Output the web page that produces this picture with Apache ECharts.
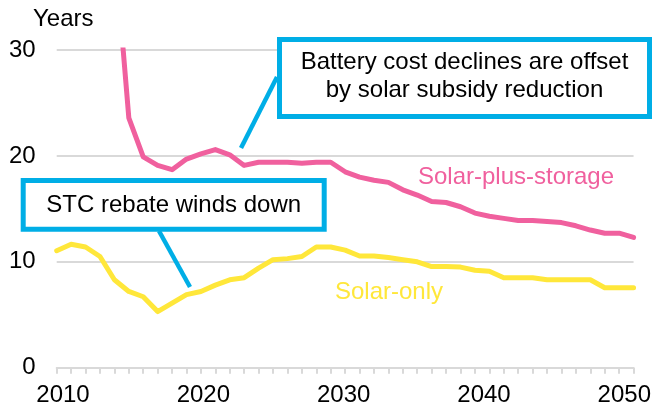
<!DOCTYPE html>
<html>
<head>
<meta charset="utf-8">
<script src="https://cdn.jsdelivr.net/npm/echarts@6/dist/echarts.min.js"></script>
<style>html,body{margin:0;padding:0;background:#fff}#c{width:654px;height:409px}</style>
</head>
<body>
<div id="c"></div>
<script>
const years = [2010,2011,2012,2013,2014,2015,2016,2017,2018,2019,2020,2021,2022,2023,2024,2025,2026,2027,2028,2029,2030,2031,2032,2033,2034,2035,2036,2037,2038,2039,2040,2041,2042,2043,2044,2045,2046,2047,2048,2049,2050];
const solarPlusStorage = [null,null,null,null,40,23.6,19.9,19.1,18.7,19.7,20.2,20.6,20.1,19.1,19.4,19.4,19.4,19.3,19.4,19.4,18.5,18.0,17.7,17.5,16.8,16.3,15.7,15.6,15.2,14.6,14.3,14.1,13.9,13.9,13.8,13.7,13.4,13.0,12.7,12.7,12.3];
const solarOnly = [11.05,11.65,11.4,10.5,8.3,7.2,6.7,5.3,6.1,6.9,7.2,7.8,8.3,8.5,9.4,10.2,10.3,10.5,11.4,11.4,11.1,10.55,10.55,10.4,10.2,10.0,9.55,9.55,9.5,9.2,9.1,8.5,8.5,8.5,8.3,8.3,8.3,8.3,7.55,7.55,7.55];
const xTickLabels = [2010,2020,2030,2040,2050];
const yTickLabels = [0,10,20,30];
const seriesNames = ['Solar-plus-storage','Solar-only'];
const yTitle = 'Years';
const note1 = ['Battery cost declines are offset','by solar subsidy reduction'];
const note2 = 'STC rebate winds down';

const PINK = '#F0609E', YELLOW = '#FFE73A', BLUE = '#00AEE6', GRID = '#D9D9D9';
const FONT = '"Liberation Sans", Arial, sans-serif';
const FS = 24;

const chart = echarts.init(document.getElementById('c'), null, {renderer:'canvas'});
const pair = arr => years.map((y,i)=>[y, arr[i]]);

chart.setOption({
  animation:false,
  grid:{left:56.7, right:19.7, top:50, bottom:41.3},
  xAxis:[{
    type:'value', min:2010, max:2050, interval:1,
    axisLine:{show:true, lineStyle:{color:GRID, width:2}},
    axisTick:{show:true, length:6, lineStyle:{color:GRID, width:2}},
    axisLabel:{show:false}, splitLine:{show:false}
  },{
    type:'value', min:2009.55, max:2050.66, position:'bottom',
    axisLine:{show:false}, axisTick:{show:false}, splitLine:{show:false},
    axisLabel:{show:true, customValues:xTickLabels, formatter:v=>String(v), color:'#000', fontSize:FS, fontFamily:FONT, margin:16}
  }],
  yAxis:{
    type:'value', min:0, max:30, interval:10,
    axisLine:{show:false}, axisTick:{show:false},
    splitLine:{show:true, lineStyle:{color:GRID, width:2}},
    axisLabel:{color:'#000', fontSize:FS, fontFamily:FONT, margin:21,
      formatter:v=>yTickLabels.includes(v)?String(v):''}
  },
  series:[
    {name:seriesNames[0], type:'line', xAxisIndex:0, data:pair(solarPlusStorage), symbol:'none', clip:true,
     lineStyle:{color:PINK, width:5, cap:'round', join:'round'}},
    {name:seriesNames[1], type:'line', xAxisIndex:0, data:pair(solarOnly), symbol:'none', clip:true,
     lineStyle:{color:YELLOW, width:5, cap:'round', join:'round'}}
  ],
  graphic:[
    {type:'text', left:33, top:7, style:{text:yTitle, fill:'#000', font:`${FS}px ${FONT}`}},
    {type:'text', x:516, y:177, style:{text:seriesNames[0], fill:PINK, font:`${FS}px ${FONT}`, textAlign:'center', textVerticalAlign:'middle'}},
    {type:'text', x:389, y:292, style:{text:seriesNames[1], fill:YELLOW, font:`${FS}px ${FONT}`, textAlign:'center', textVerticalAlign:'middle'}},
    {type:'line', shape:{x1:277, y1:77, x2:241, y2:148}, style:{stroke:BLUE, lineWidth:4.5}, z:100},
    {type:'line', shape:{x1:159, y1:231, x2:190, y2:287}, style:{stroke:BLUE, lineWidth:4.5}, z:100},
    {type:'rect', shape:{x:279.5, y:39.5, width:370, height:77}, style:{fill:'#fff', stroke:BLUE, lineWidth:5}, z:101},
    {type:'text', x:464.5, y:62, style:{text:note1[0], fill:'#000', font:`${FS}px ${FONT}`, textAlign:'center', textVerticalAlign:'middle'}, z:102},
    {type:'text', x:464.5, y:90, style:{text:note1[1], fill:'#000', font:`${FS}px ${FONT}`, textAlign:'center', textVerticalAlign:'middle'}, z:102},
    {type:'rect', shape:{x:23.2, y:180.5, width:301, height:48.7}, style:{fill:'#fff', stroke:BLUE, lineWidth:5}, z:101},
    {type:'text', x:173.7, y:205, style:{text:note2, fill:'#000', font:`${FS}px ${FONT}`, textAlign:'center', textVerticalAlign:'middle'}, z:102}
  ]
});
</script>
</body>
</html>
